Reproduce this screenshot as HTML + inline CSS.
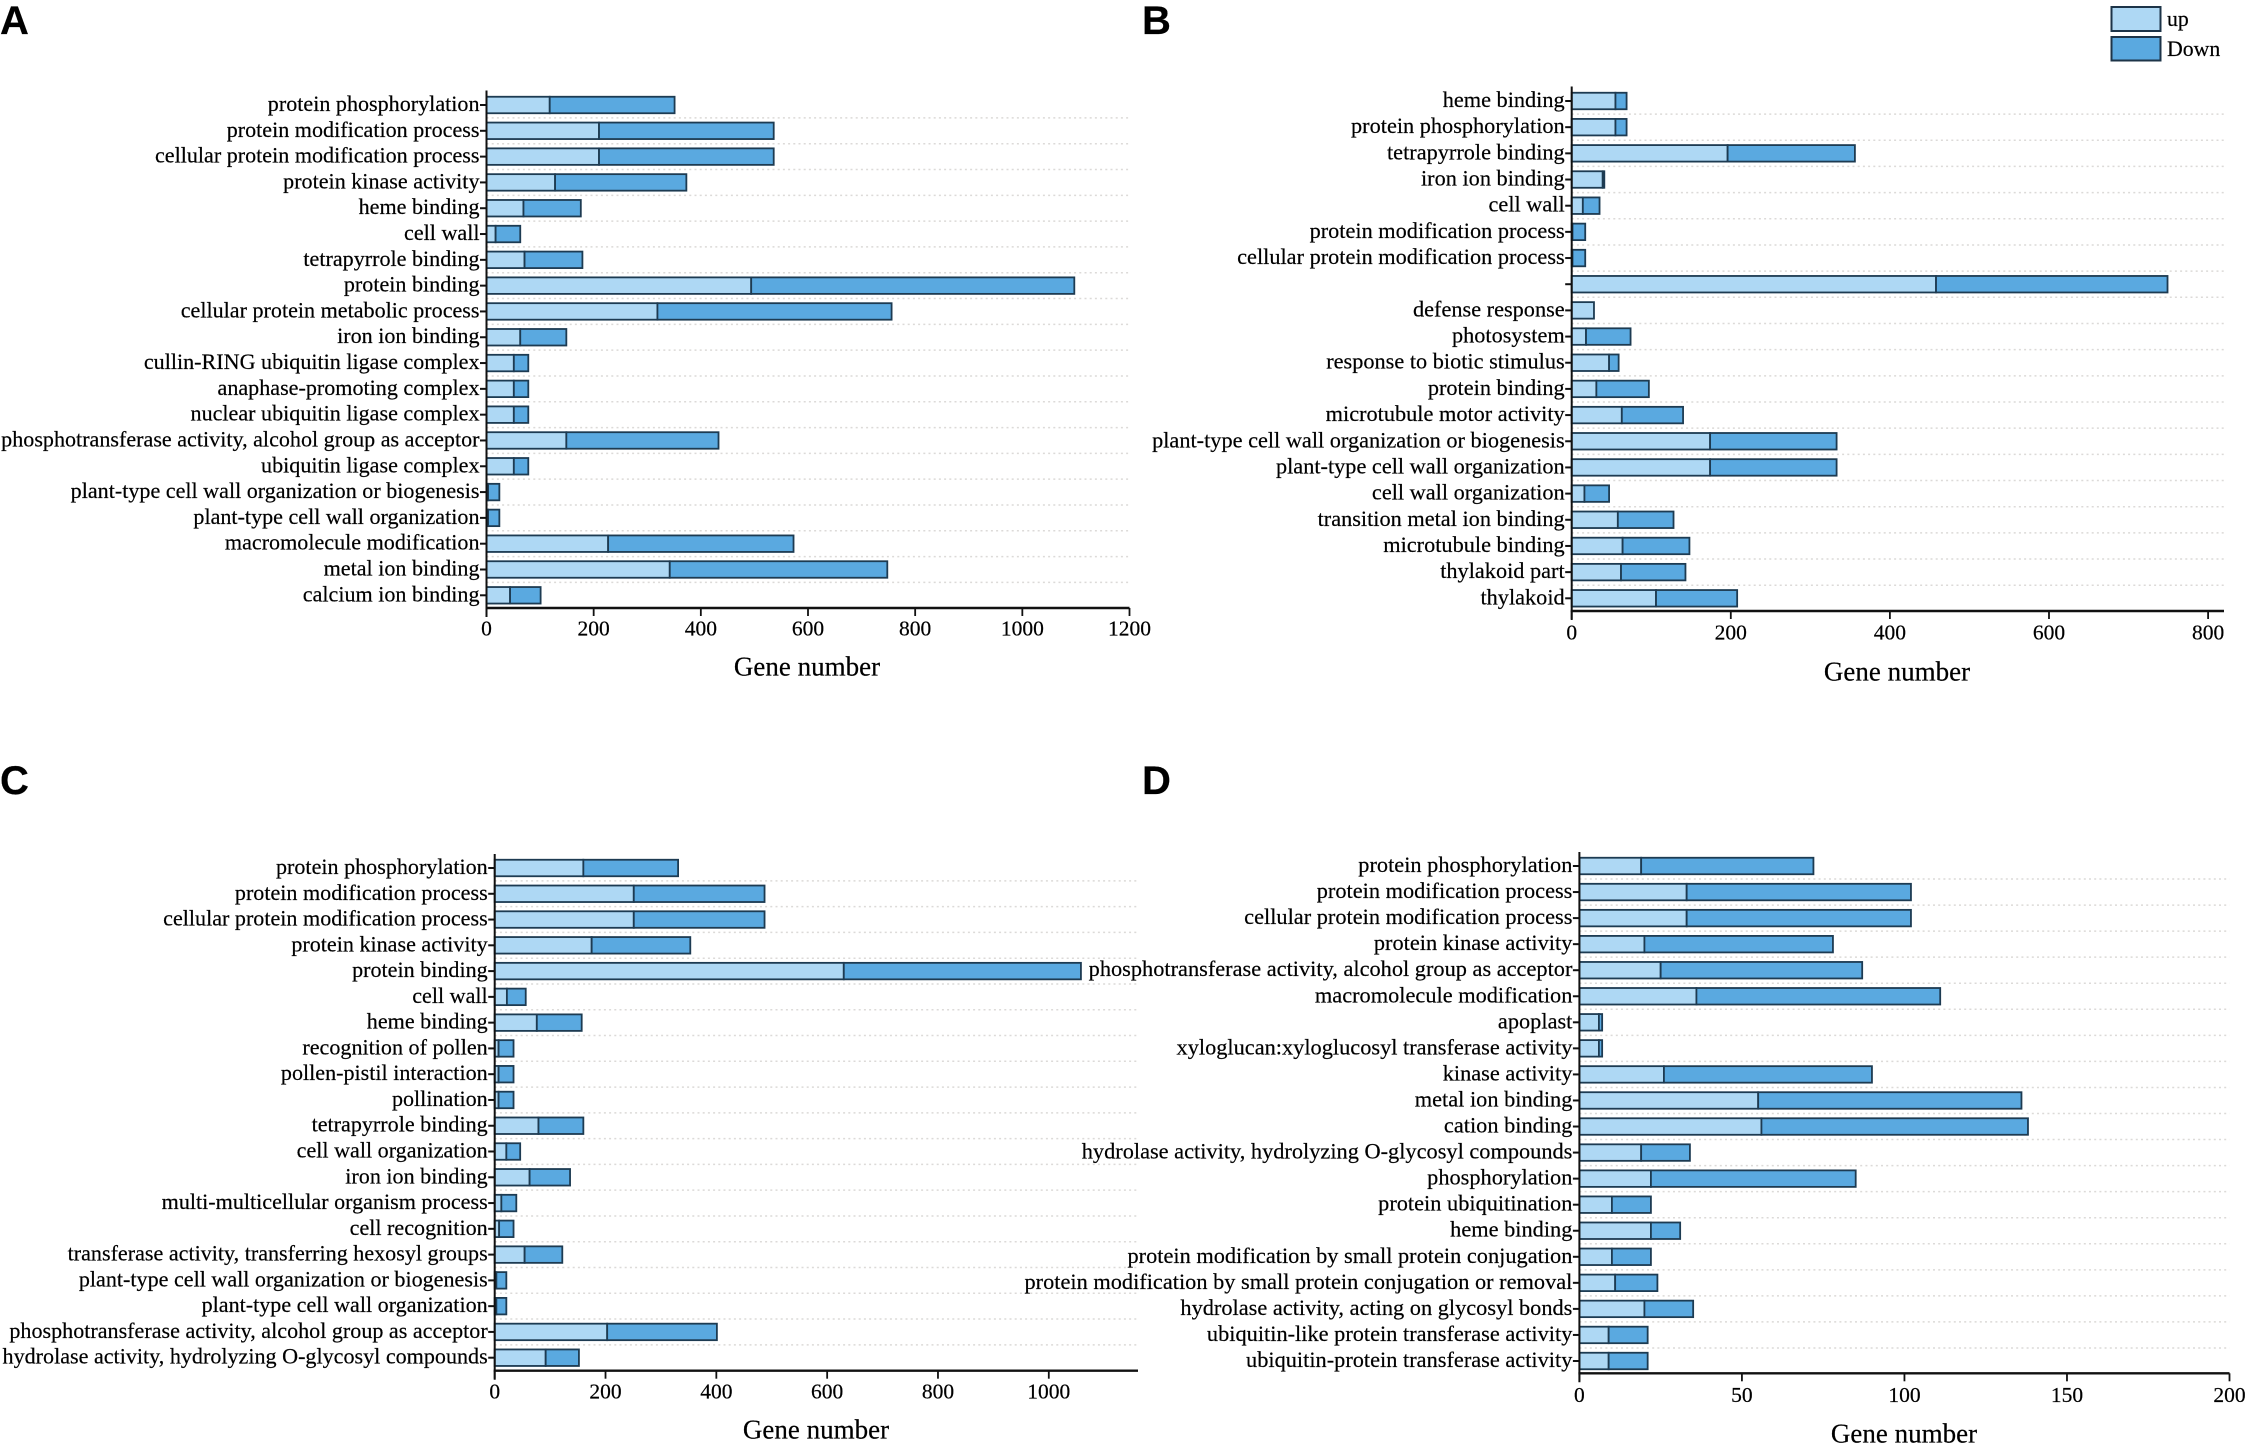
<!DOCTYPE html>
<html lang="en">
<head>
<meta charset="utf-8">
<title>Gene number bar charts</title>
<style>
html,body{margin:0;padding:0;background:#fff;}
svg{display:block;}
text{font-family:"Liberation Serif","Times New Roman",serif;fill:#000;stroke:#000;stroke-width:0.2px;}
.panel-letter{font-family:"Liberation Sans",Arial,sans-serif;font-weight:bold;font-size:40px;}
</style>
</head>
<body>
<svg id="figure" xmlns="http://www.w3.org/2000/svg" width="2245" height="1448" viewBox="0 0 2245 1448">
  <rect x="0" y="0" width="2245" height="1448" fill="#ffffff"/>
  <text class="panel-letter" x="0" y="34">A</text>
  <text class="panel-letter" x="1142" y="34">B</text>
  <text class="panel-letter" x="0" y="794">C</text>
  <text class="panel-letter" x="1142" y="794">D</text>
  <g>
    <rect x="2111.5" y="7" width="49" height="24" fill="#aed8f4" stroke="#1d3448" stroke-width="2"/>
    <text x="2167" y="26" font-size="21.8">up</text>
    <rect x="2111.5" y="37" width="49" height="23.5" fill="#5aa9e0" stroke="#1d3448" stroke-width="2"/>
    <text x="2167" y="56" font-size="21.8">Down</text>
  </g>
</svg>
<script>
const categoriesA = ["protein phosphorylation","protein modification process","cellular protein modification process","protein kinase activity","heme binding","cell wall","tetrapyrrole binding","protein binding","cellular protein metabolic process","iron ion binding","cullin-RING ubiquitin ligase complex","anaphase-promoting complex","nuclear ubiquitin ligase complex","phosphotransferase activity, alcohol group as acceptor","ubiquitin ligase complex","plant-type cell wall organization or biogenesis","plant-type cell wall organization","macromolecule modification","metal ion binding","calcium ion binding"];
const upA = [118,210,210,128,69,17,71,494,319,63,51,51,51,149,51,3,3,227,342,44];
const downA = [233,326,326,245,107,46,108,603,437,86,27,27,27,284,27,21,21,346,406,57];
const ticksA = [0,200,400,600,800,1000,1200];

const categoriesB = ["heme binding","protein phosphorylation","tetrapyrrole binding","iron ion binding","cell wall","protein modification process","cellular protein modification process","","defense response","photosystem","response to biotic stimulus","protein binding","microtubule motor activity","plant-type cell wall organization or biogenesis","plant-type cell wall organization","cell wall organization","transition metal ion binding","microtubule binding","thylakoid part","thylakoid"];
const upB = [55,55,196,39,14,1,1,458,28,18,47,31,63,174,174,16,58,64,62,106];
const downB = [14,14,160,2,21,16,16,291,0,56,12,66,77,159,159,31,70,84,81,102];
const ticksB = [0,200,400,600,800];

const categoriesC = ["protein phosphorylation","protein modification process","cellular protein modification process","protein kinase activity","protein binding","cell wall","heme binding","recognition of pollen","pollen-pistil interaction","pollination","tetrapyrrole binding","cell wall organization","iron ion binding","multi-multicellular organism process","cell recognition","transferase activity, transferring hexosyl groups","plant-type cell wall organization or biogenesis","plant-type cell wall organization","phosphotransferase activity, alcohol group as acceptor","hydrolase activity, hydrolyzing O-glycosyl compounds"];
const upC = [160,251,251,175,630,22,76,7,7,7,79,21,63,12,8,54,3,3,203,92];
const downC = [171,236,236,178,428,34,81,27,27,27,81,25,73,27,26,68,18,18,198,60];
const ticksC = [0,200,400,600,800,1000];

const categoriesD = ["protein phosphorylation","protein modification process","cellular protein modification process","protein kinase activity","phosphotransferase activity, alcohol group as acceptor","macromolecule modification","apoplast","xyloglucan:xyloglucosyl transferase activity","kinase activity","metal ion binding","cation binding","hydrolase activity, hydrolyzing O-glycosyl compounds","phosphorylation","protein ubiquitination","heme binding","protein modification by small protein conjugation","protein modification by small protein conjugation or removal","hydrolase activity, acting on glycosyl bonds","ubiquitin-like protein transferase activity","ubiquitin-protein transferase activity"];
const upD = [19,33,33,20,25,36,6,6,26,55,56,19,22,10,22,10,11,20,9,9];
const downD = [53,69,69,58,62,75,1,1,64,81,82,15,63,12,9,12,13,15,12,12];
const ticksD = [0,50,100,150,200];

const axisTitle = "Gene number";

const NS = "http://www.w3.org/2000/svg";
const root = document.getElementById("figure");

function make(tag, parent) {
  const el = document.createElementNS(NS, tag);
  parent.appendChild(el);
  return el;
}
function setAll(el, attrs) {
  for (const k in attrs) el.setAttribute(k, attrs[k]);
}

function drawPanel(id, categories, up, down, ticks, frame) {
  const g = make("g", root);
  
  

  const xScale = v => frame.x0 + (v / frame.domainMax) * (frame.x1 - frame.x0);
  const step = (frame.rowLast - frame.rowFirst) / (categories.length - 1);
  const yScale = i => frame.rowFirst + i * step;
  const barH = 16.5;

  categories.forEach((c, i) => {
    if (i === categories.length - 1) return;
    const line = make("line", g);
    
    
    setAll(line, {x1: frame.x0, x2: frame.x1, y1: yScale(i) + step / 2, y2: yScale(i) + step / 2,
      stroke: "#dcdad8", "stroke-width": 1.5, "stroke-dasharray": "2 3.2"});
  });

  categories.forEach((c, i) => {
    const y = yScale(i);
    const upBar = make("rect", g);
    
    
    setAll(upBar, {x: xScale(0), y: y - barH / 2, width: xScale(up[i]) - xScale(0), height: barH,
      fill: "#aed8f4", stroke: "#1d3b52", "stroke-width": 1.8});
    if (down[i] > 0) {
      const downBar = make("rect", g);
      
      
      setAll(downBar, {x: xScale(up[i]), y: y - barH / 2, width: xScale(up[i] + down[i]) - xScale(up[i]), height: barH,
        fill: "#5aa9e0", stroke: "#1d3b52", "stroke-width": 1.8});
    }
    const tick = make("line", g);
    
    
    setAll(tick, {x1: frame.x0 - 6.5, x2: frame.x0, y1: y, y2: y, stroke: "#111", "stroke-width": 2});
    if (c) {
      const label = make("text", g);
      
      
      setAll(label, {x: frame.x0 - 7, y: y + 6, "text-anchor": "end", "font-size": frame.labelSize});
      label.textContent = c;
    }
  });

  const yAxis = make("line", g);
  
  
  setAll(yAxis, {x1: frame.x0, x2: frame.x0, y1: frame.axisTop, y2: frame.axisY + 9, stroke: "#111", "stroke-width": 2});

  const xAxis = make("line", g);
  
  
  setAll(xAxis, {x1: frame.x0 - 1, x2: frame.x1, y1: frame.axisY, y2: frame.axisY, stroke: "#111", "stroke-width": 2.4});

  ticks.forEach(t => {
    const mark = make("line", g);
    
    
    setAll(mark, {x1: xScale(t), x2: xScale(t), y1: frame.axisY, y2: frame.axisY + 8, stroke: "#111", "stroke-width": 1.8});
    const label = make("text", g);
    
    
    setAll(label, {x: xScale(t), y: frame.tickY + 7.5, "text-anchor": "middle", "font-size": 21.5});
    label.textContent = t;
  });

  const title = make("text", g);
  
  
  setAll(title, {x: frame.titleX, y: frame.titleY + 8.5, "text-anchor": "middle", "font-size": 27});
  title.textContent = axisTitle;
}

drawPanel("a", categoriesA, upA, downA, ticksA, {x0: 486.5, x1: 1129.5, domainMax: 1200, rowFirst: 105, rowLast: 595.3, axisTop: 90.5, axisY: 608, tickY: 628, titleX: 807, titleY: 667, labelSize: 22.1});
drawPanel("b", categoriesB, upB, downB, ticksB, {x0: 1571.7, x1: 2224, domainMax: 820, rowFirst: 101, rowLast: 598.3, axisTop: 86.5, axisY: 611, tickY: 632, titleX: 1897, titleY: 672, labelSize: 22.3});
drawPanel("c", categoriesC, upC, downC, ticksC, {x0: 494.7, x1: 1138, domainMax: 1161, rowFirst: 868, rowLast: 1357.7, axisTop: 854, axisY: 1370.7, tickY: 1391, titleX: 816, titleY: 1430, labelSize: 22.1});
drawPanel("d", categoriesD, upD, downD, ticksD, {x0: 1579.4, x1: 2229.5, domainMax: 200, rowFirst: 866, rowLast: 1361, axisTop: 852, axisY: 1373.3, tickY: 1394.3, titleX: 1904, titleY: 1434, labelSize: 22.35});
</script>
</body>
</html>
